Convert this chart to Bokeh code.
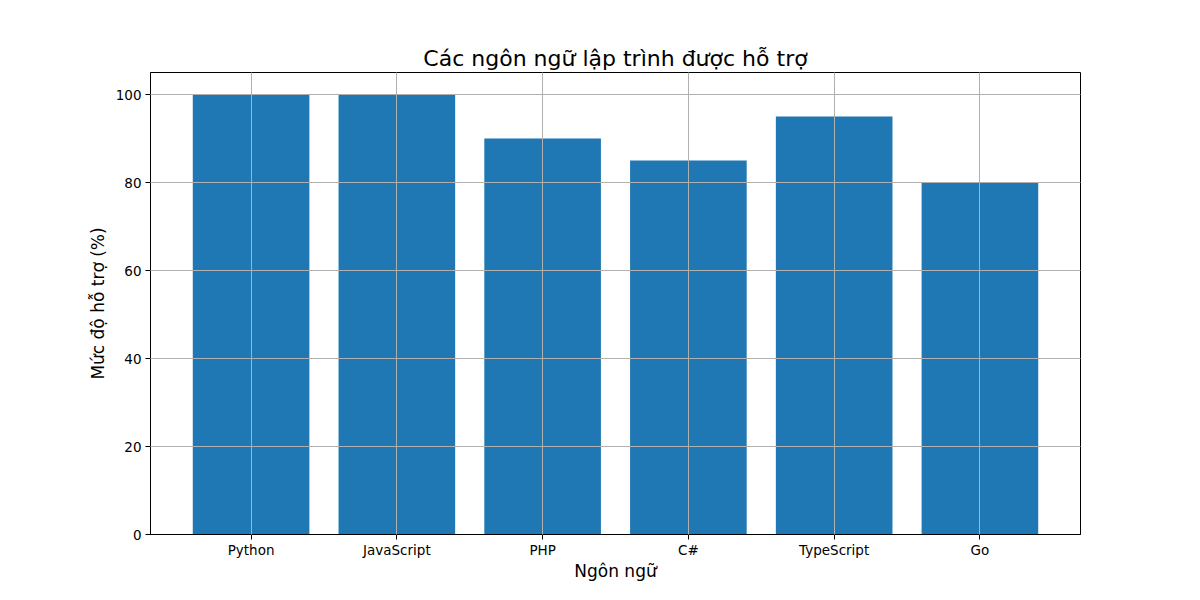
from bokeh.plotting import figure
from bokeh.models import FixedTicker, Range1d
from bokeh.embed import file_html
from bokeh.resources import INLINE

languages = ["Python", "JavaScript", "PHP", "C#", "TypeScript", "Go"]
support = [100, 100, 90, 85, 95, 80]
y_ticks = [0, 20, 40, 60, 80, 100]

xs = list(range(len(languages)))
FONT = "DejaVu Sans"

p = figure(width=1200, height=600, output_backend="svg", toolbar_location=None,
           x_range=Range1d(-0.69, len(languages) - 1 + 0.69), y_range=Range1d(0, 105),
           min_border_left=150, min_border_right=120, min_border_top=72, min_border_bottom=66,
           title="Các ngôn ngữ lập trình được hỗ trợ")

p.vbar(x=xs, top=support, width=0.8, bottom=0, fill_color="#1f77b4", line_color=None)

p.title.align = "center"
p.title.text_font = FONT
p.title.text_font_size = "22px"
p.title.text_font_style = "normal"
p.title.text_color = "black"
p.title.standoff = 4

p.outline_line_color = "black"
p.outline_line_width = 1
p.background_fill_color = "white"
p.border_fill_color = "white"

for g in (p.xgrid, p.ygrid):
    g.grid_line_color = "#b0b0b0"
    g.grid_line_width = 1
    g.level = "overlay"

p.xaxis.ticker = FixedTicker(ticks=xs)
p.xaxis.major_label_overrides = {i: name for i, name in enumerate(languages)}
p.yaxis.ticker = FixedTicker(ticks=y_ticks)
p.xgrid.ticker = FixedTicker(ticks=xs)
p.ygrid.ticker = FixedTicker(ticks=y_ticks)

p.xaxis.axis_label = "Ngôn ngữ"
p.yaxis.axis_label = "Mức độ hỗ trợ (%)"

for ax in (p.xaxis, p.yaxis):
    ax.axis_line_color = "black"
    ax.major_tick_line_color = "black"
    ax.major_tick_out = 5
    ax.major_tick_in = 0
    ax.minor_tick_line_color = None
    ax.major_label_text_font = FONT
    ax.major_label_text_font_size = "13.5px"
    ax.major_label_text_color = "black"
    ax.axis_label_text_font = FONT
    ax.axis_label_text_font_size = "17px"
    ax.axis_label_text_font_style = "normal"
    ax.axis_label_text_color = "black"
    ax.major_label_standoff = 4

p.xaxis.major_label_standoff = 2
p.xaxis.axis_label_standoff = 0
p.yaxis.axis_label_standoff = 5

open("out.html", "w").write(file_html(p, INLINE))
